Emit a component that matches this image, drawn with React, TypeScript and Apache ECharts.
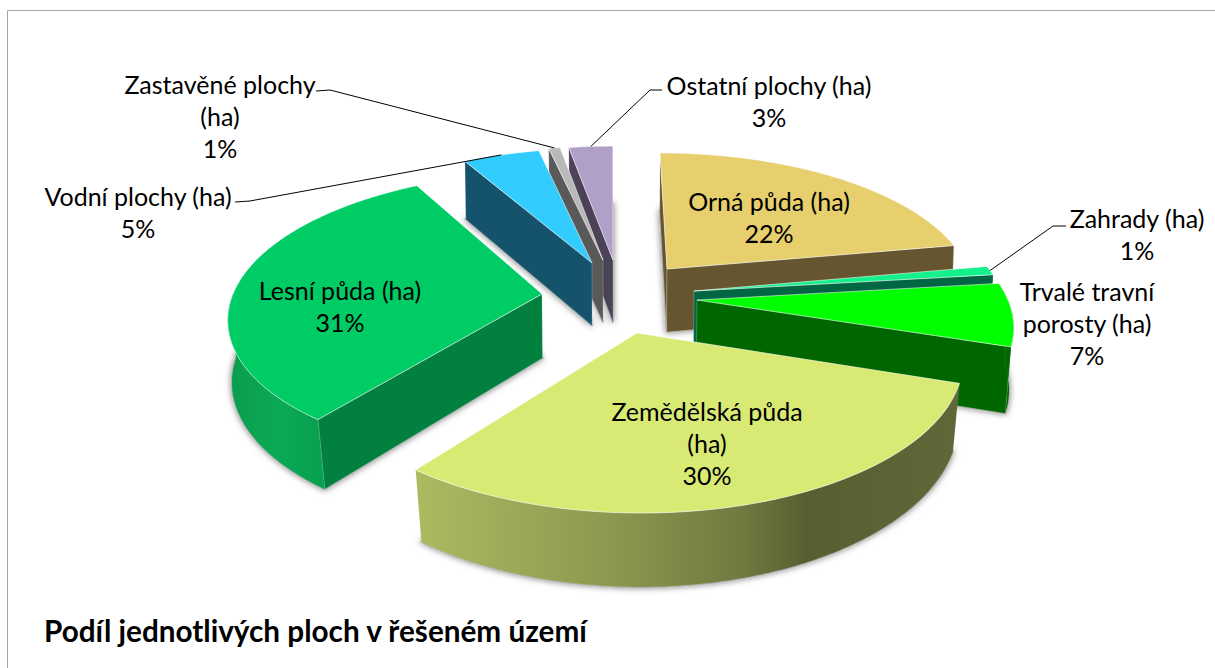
import React, { useEffect, useRef } from "react";
import * as echarts from "echarts";

const categories = [
  "Orná půda (ha)",
  "Zahrady (ha)",
  "Trvalé travní\nporosty (ha)",
  "Zemědělská půda\n(ha)",
  "Lesní půda (ha)",
  "Vodní plochy (ha)",
  "Zastavěné plochy\n(ha)",
  "Ostatní plochy (ha)",
];
const shares = [22.1, 1.0, 7.0, 30.4, 31.4, 4.7, 0.7, 2.7];
const titleText = "Podíl jednotlivých ploch v řešeném území";

const FONT = "Lato, Carlito, Calibri, sans-serif";
const VIEW = { xc: 612, yh: 300, rx: 311, ry: 142, p: 0.15 };

const apexes = [
  [667, 269], [694, 291], [697, 300], [637, 333],
  [542, 294], [592, 263], [603, 260], [613, 260],
];
const topColors = ["#E6CF6C", "#14F08C", "#00FF00", "#D9EA74", "#00CC66", "#33CCFF", "#B9B9B9", "#B09FC6"];
const cutColors = ["#66562F", "#006644", "#006600", "#7E8A45", "#02803F", "#14536B", "#595959", "#4B4258"];
const wallFills: any[] = [
  "#66562F",
  "#006644",
  "#006600",
  {
    type: "linear", x: 0, y: 0, x2: 1, y2: 0,
    colorStops: [
      { offset: 0, color: "#ADBA60" }, { offset: 0.35, color: "#8E9950" },
      { offset: 0.6, color: "#6F7A40" }, { offset: 0.72, color: "#565F2F" },
      { offset: 1, color: "#5F6838" },
    ],
  },
  {
    type: "linear", x: 0, y: 0, x2: 1, y2: 0,
    colorStops: [
      { offset: 0, color: "#0A9C4D" }, { offset: 0.5, color: "#0BA956" }, { offset: 1, color: "#07A050" },
    ],
  },
  "#14536B", "#595959", "#4B4258",
];
const paintRank = [3, 4, 5, 7, 6, 2, 1, 0];
const labelCenters = [
  [769, 217], [1137, 234], [1087, 323], [707, 443],
  [340, 306], [138, 212], [220, 116], [769, 101],
];
const leaderStarts: (number[][] | null)[] = [
  null,
  [[1066, 226], [1053, 226]],
  null,
  null,
  null,
  [[235, 202], [250, 201]],
  [[316, 91], [330, 90]],
  [[662, 90], [650, 90]],
];

const project = (u: number, v: number) => {
  const w = 1 - VIEW.p * v;
  return [VIEW.xc + (VIEW.rx * u) / w, VIEW.yh + (VIEW.ry * v) / w];
};
const lower = (pt: number[]) => {
  const lean = Math.max(0.006, 0.005 + (pt[1] - 270) * 0.00012);
  return [
    VIEW.xc + (pt[0] - VIEW.xc) * (1 - lean),
    pt[1] + 63 + (pt[1] - 270) * 0.045,
  ];
};
const startAngle = (i: number) => {
  const total = shares.reduce((a, b) => a + b, 0);
  return (shares.slice(0, i).reduce((a, b) => a + b, 0) / total) * 360;
};

function renderSlice(params: any, api: any) {
  const i = params.dataIndex;
  const share = api.value(1);
  const total = shares.reduce((a, b) => a + b, 0);
  const a = startAngle(i);
  const b = a + (share / total) * 360;
  const [ax, ay] = apexes[i];
  const s = ay - VIEW.yh;
  const v0 = s / (VIEW.ry + VIEW.p * s);
  const u0 = ((ax - VIEW.xc) * (1 - VIEW.p * v0)) / VIEW.rx;
  const at = (deg: number) => {
    const t = (deg * Math.PI) / 180;
    return project(u0 + Math.sin(t), v0 - Math.cos(t));
  };
  const arc = (from: number, to: number) => {
    const n = Math.max(2, Math.ceil(Math.abs(to - from)));
    const pts: number[][] = [];
    for (let k = 0; k <= n; k++) pts.push(at(from + ((to - from) * k) / n));
    return pts;
  };
  const apex = [ax, ay];
  const apexLow = lower(apex);
  const rim = arc(a, b);
  const base = paintRank[i] * 10;
  const children: any[] = [];

  // soft shadow round the floor of the slice
  children.push({
    type: "polygon",
    z2: base,
    silent: true,
    shape: { points: [apexLow, ...rim.map(lower)] },
    style: {
      fill: "#AEAEAE", stroke: "#AEAEAE", lineWidth: 2,
      shadowBlur: 6, shadowColor: "rgba(0,0,0,0.5)",
    },
  });

  const mid = at((a + b) / 2);
  const cross = (o: number[], p: number[], q: number[]) =>
    (p[0] - o[0]) * (q[1] - o[1]) - (p[1] - o[1]) * (q[0] - o[0]);
  [a, b].forEach((deg) => {
    const e = at(deg);
    if (cross(apex, e, apexLow) * cross(apex, e, mid) < 0) {
      children.push({
        type: "polygon",
        z2: base + 1,
        silent: true,
        shape: { points: [apex, e, lower(e), apexLow] },
        style: { fill: cutColors[i], stroke: "rgba(255,255,255,0.22)", lineWidth: 1 },
      });
    }
  });

  const wa = Math.max(a, 90);
  const wb = Math.min(b, 270);
  if (wb > wa) {
    const wallTop = arc(wa, wb);
    children.push({
      type: "polygon",
      z2: base + 2,
      silent: true,
      shape: { points: [...wallTop, ...wallTop.map(lower).reverse()] },
      style: { fill: wallFills[i], stroke: "rgba(255,255,255,0.12)", lineWidth: 0.6 },
    });
  }

  children.push({
    type: "polygon",
    z2: base + 3,
    silent: true,
    shape: { points: [apex, ...rim] },
    style: { fill: topColors[i], stroke: "rgba(255,255,255,0.55)", lineWidth: 1 },
  });

  const leader = leaderStarts[i];
  if (leader) {
    children.push({
      type: "polyline",
      z2: 200,
      silent: true,
      shape: { points: [...leader, mid] },
      style: { fill: "none", stroke: "#000", lineWidth: 1 },
    });
  }

  const pct = Math.round((share / total) * 100);
  children.push({
    type: "text",
    z2: 300,
    silent: true,
    x: labelCenters[i][0],
    y: labelCenters[i][1],
    style: {
      text: `${categories[i]}\n${pct}%`,
      fontFamily: FONT,
      fontSize: 25,
      lineHeight: 32,
      fill: "#000",
      align: "center",
      verticalAlign: "middle",
    },
  });

  return { type: "group", children };
}

export default function App() {
  const ref = useRef<HTMLDivElement>(null);
  useEffect(() => {
    const chart = echarts.init(ref.current!, null, { renderer: "svg" });
    chart.setOption({
      animation: false,
      backgroundColor: "#fff",
      title: {
        text: titleText,
        left: 44,
        top: 615,
        padding: 0,
        textStyle: { fontFamily: FONT, fontSize: 29.7, fontWeight: "bold", color: "#000" },
      },
      graphic: [
        {
          type: "rect",
          silent: true,
          shape: { x: 7.5, y: 10.5, width: 1400, height: 900 },
          style: { fill: "none", stroke: "#ABA498", lineWidth: 1 },
        },
      ],
      series: [
        {
          type: "custom",
          coordinateSystem: "none",
          renderItem: renderSlice,
          data: shares.map((v, i) => ({ name: categories[i], value: [i, v] })),
        },
      ],
    });
    return () => chart.dispose();
  }, []);
  return (
    <div
      ref={ref}
      style={{ position: "fixed", left: 0, top: 0, width: 1215, height: 668, background: "#fff" }}
    />
  );
}
